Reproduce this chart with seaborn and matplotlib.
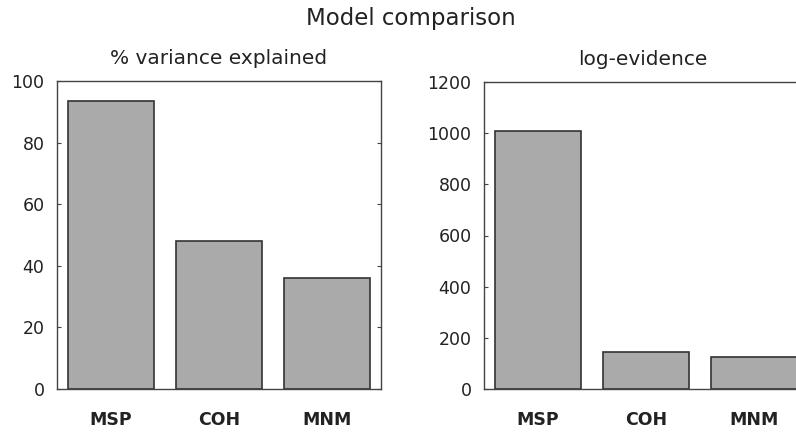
import matplotlib
matplotlib.use("Agg")
import matplotlib.pyplot as plt
import seaborn as sns
import pandas as pd

categories = ["MSP", "COH", "MNM"]
variance_explained = [93.5, 48, 36]
log_evidence = [1008, 145, 126]
left_ticks = [0, 20, 40, 60, 80, 100]
right_ticks = [0, 200, 400, 600, 800, 1000, 1200]

sns.set_theme(style="white")
plt.rcParams['font.family'] = ['DejaVu Sans']

fig = plt.figure(figsize=(7.96, 4.32), dpi=100)
ax1 = fig.add_axes([57/796, 1-389/432, 324/796, 308/432])
ax2 = fig.add_axes([484/796, 1-389/432, 324/796, 307/432])

txt = "#222222"
spine_c = "#444444"
for ax, vals, ticks in [(ax1, variance_explained, left_ticks),
                        (ax2, log_evidence, right_ticks)]:
    df = pd.DataFrame({"model": categories, "value": vals})
    sns.barplot(data=df, x="model", y="value", ax=ax, color="#aaaaaa",
                saturation=1, width=0.8, edgecolor="#333333", linewidth=1.2)
    ax.set_xlim(-0.5, 2.5)
    ax.set_ylim(ticks[0], ticks[-1])
    ax.set_yticks(ticks)
    ax.set_yticklabels([str(t) for t in ticks], fontsize=12.5, color=txt)
    ax.set_xlabel("")
    ax.set_ylabel("")
    ax.tick_params(axis="x", length=0, pad=16)
    for lbl in ax.get_xticklabels():
        lbl.set_fontweight("bold")
        lbl.set_fontsize(12.5)
        lbl.set_color(txt)
    ax.tick_params(axis="y", direction="in", length=3, width=0.8, color=spine_c,
                   left=True, right=True, pad=9)
    for s in ax.spines.values():
        s.set_color(spine_c)
        s.set_linewidth(1.0)

ax1.set_title("% variance explained", fontsize=14.5, color=txt, pad=12)
ax2.set_title("log-evidence", fontsize=14.5, color=txt, pad=12, x=(643-484)/324)
fig.text(411/796, 1-19/432, "Model comparison", ha="center", va="center",
         fontsize=16.5, color=txt)

fig.savefig("out.png", dpi=100)
